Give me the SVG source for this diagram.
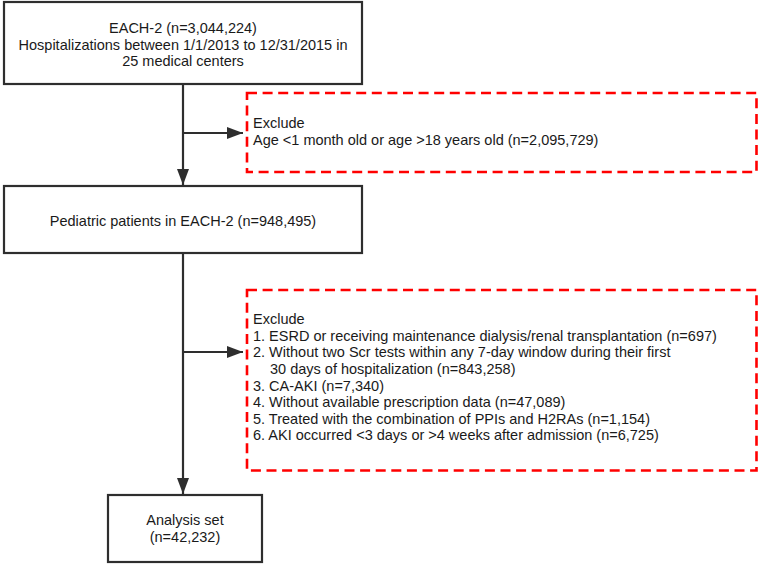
<svg xmlns="http://www.w3.org/2000/svg" width="760" height="564" viewBox="0 0 760 564">
<style>
text{font-family:"Liberation Sans",Arial,Helvetica,sans-serif;font-size:14.5px;fill:#1a1a1a}
.box{fill:#fff;stroke:#2e2e2e;stroke-width:2.2}
.ex{fill:#fff;stroke:#ff0000;stroke-width:2.6;stroke-dasharray:10,5.6}
.ln{fill:none;stroke:#2e2e2e;stroke-width:2.2}
.c{text-anchor:middle}
</style>
<defs>
<marker id="ah" markerWidth="16" markerHeight="12" refX="16" refY="6" orient="auto" markerUnits="userSpaceOnUse">
<path d="M0,0 L16,6 L0,12 Z" fill="#2e2e2e"/>
</marker>
</defs>
<g id="connectors">
<line class="ln" x1="183" y1="84" x2="183" y2="185" marker-end="url(#ah)"/>
<line class="ln" x1="183" y1="133" x2="243" y2="133" marker-end="url(#ah)"/>
<line class="ln" x1="183" y1="253" x2="183" y2="494" marker-end="url(#ah)"/>
<line class="ln" x1="183" y1="352" x2="243" y2="352" marker-end="url(#ah)"/>
</g>
<g id="source">
<rect class="box" x="4" y="2" width="358" height="82"/>
<text class="c" x="183" y="33">EACH-2 (n=3,044,224)</text>
<text class="c" x="183" y="49.5">Hospitalizations between 1/1/2013 to 12/31/2015 in</text>
<text class="c" x="183" y="66">25 medical centers</text>
</g>
<g id="exclude1">
<rect class="ex" x="247" y="93" width="509.5" height="79"/>
<text x="253" y="128">Exclude</text>
<text x="253" y="145">Age &lt;1 month old or age &gt;18 years old (n=2,095,729)</text>
</g>
<g id="pediatric">
<rect class="box" x="4" y="186" width="358" height="67"/>
<text class="c" x="183" y="226">Pediatric patients in EACH-2 (n=948,495)</text>
</g>
<g id="exclude2">
<rect class="ex" x="247" y="290" width="509.5" height="180.5"/>
<text x="253" y="323.5">Exclude</text>
<text x="253" y="340.5">1. ESRD or receiving maintenance dialysis/renal transplantation (n=697)</text>
<text x="253" y="357">2. Without two Scr tests within any 7-day window during their first</text>
<text x="270" y="373.5">30 days of hospitalization (n=843,258)</text>
<text x="253" y="390.5">3. CA-AKI (n=7,340)</text>
<text x="253" y="407">4. Without available prescription data (n=47,089)</text>
<text x="253" y="423.5">5. Treated with the combination of PPIs and H2RAs (n=1,154)</text>
<text x="253" y="440">6. AKI occurred &lt;3 days or &gt;4 weeks after admission (n=6,725)</text>
</g>
<g id="analysis">
<rect class="box" x="108" y="495" width="154" height="67"/>
<text class="c" x="185" y="525">Analysis set</text>
<text class="c" x="185" y="542">(n=42,232)</text>
</g>
</svg>
